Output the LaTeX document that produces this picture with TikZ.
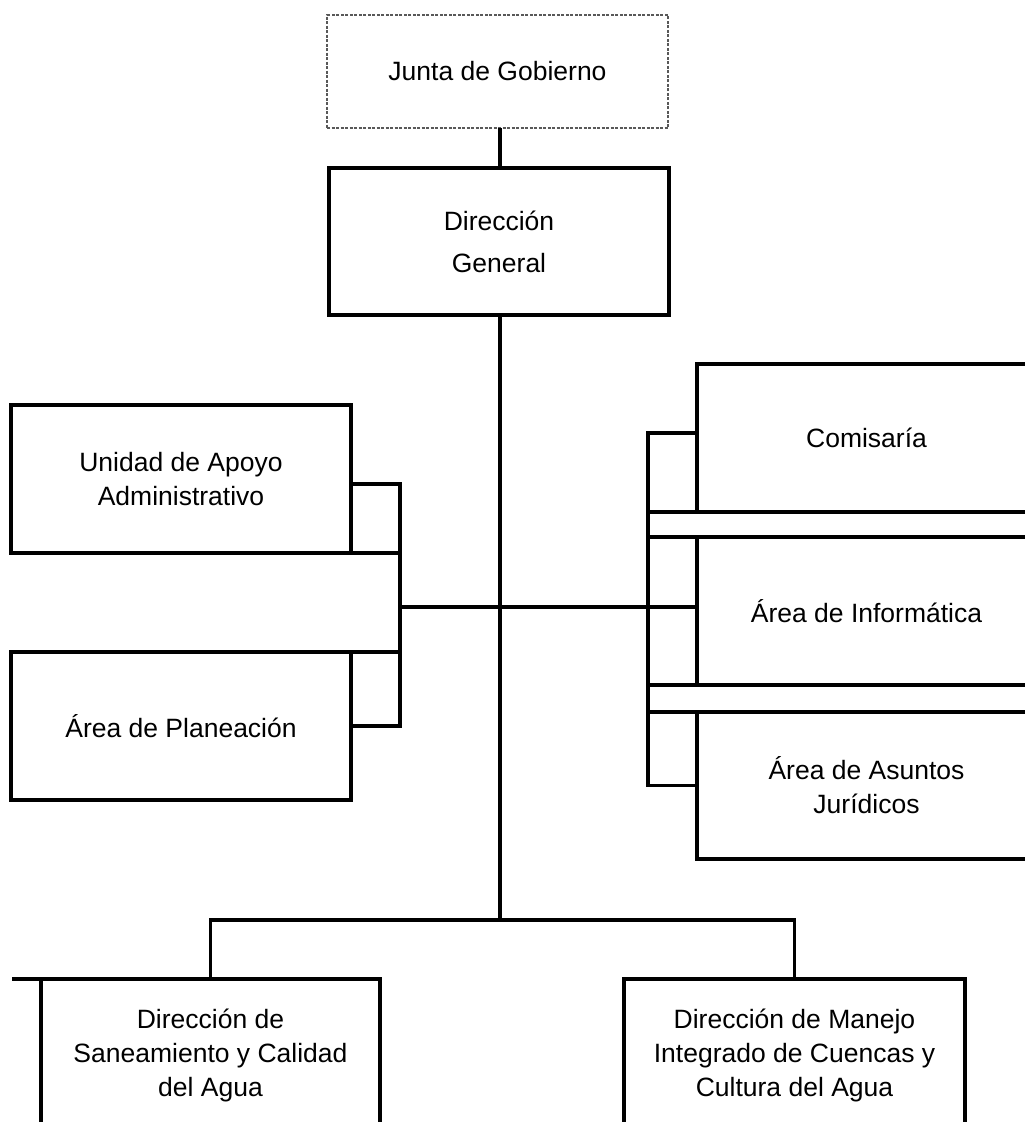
\documentclass[tikz,border=0pt]{standalone}
\usepackage{fontspec}
\setmainfont{Liberation Sans}
\usepackage{tikz}
\usetikzlibrary{positioning, calc}

\tikzset{
  unit/.style={draw, line width=3.5pt, rectangle, outer sep=0pt, inner sep=0pt,
    align=center, font=\fontsize{26.5}{34}\selectfont},
  board/.style={unit, line width=1.3pt, draw=gray!70!black, dash pattern=on 3pt off 1.5pt},
  link/.style={line width=3.5pt}
}

\begin{document}
\begin{tikzpicture}[x=1pt, y=-1pt]
    \useasboundingbox (0, 0) rectangle (1025, 1122);
    \clip (0, 0) rectangle (1025, 1122);

    \node[board, minimum width=341pt, minimum height=113pt] (junta) at (497.5, 71.5) {Junta de Gobierno};
    \node[unit, minimum width=340pt, minimum height=147pt, font=\fontsize{26.5}{42}\selectfont] (dg) at (499, 241.5) {Dirección\\General};

    % left side
    \node[unit, minimum width=340pt, minimum height=148pt] (uaa) at (181, 479) {Unidad de Apoyo\\Administrativo};
    \node[unit, minimum width=340pt, minimum height=148pt] (plan) at (181, 726) {Área de Planeación};

    % right side
    \node[unit, minimum width=339pt, minimum height=148pt] (comis) at (866.5, 438) {Comisaría};
    \node[unit, minimum width=339pt, minimum height=148pt] (info) at (866.5, 611) {Área de Informática};
    \node[unit, minimum width=339pt, minimum height=147pt] (asun) at (866.5, 785.5) {Área de Asuntos\\Jurídicos};

    % bottom
    \node[unit, minimum width=339pt, minimum height=152pt] (dsan) at (210.5, 1055) {Dirección de\\Saneamiento y Calidad\\del Agua};
    \node[unit, minimum width=341pt, minimum height=152pt] (dmic) at (794.5, 1055) {Dirección de Manejo\\Integrado de Cuencas y\\Cultura del Agua};

    \coordinate (lbus) at (400, 607);
    \coordinate (rbus) at (648, 607);
    \coordinate (split) at (500, 920);

    \draw[link] (split |- junta.south) -- (split |- dg.north);
    \draw[link] (split |- dg.south) -- (split);
    \draw[link] (lbus) -- (lbus -| info.west);
    \draw[link] ($(uaa.east)+(0,5)$) -| (lbus) |- (plan.east);
    \draw[link] (uaa.south east) -- (uaa.south east -| lbus);
    \draw[link] (plan.north east) -- (plan.north east -| lbus);
    \draw[link] ($(comis.west)+(0,-5)$) -| (rbus) |- (asun.west);
    \draw[link] (comis.south west) -- (comis.south west -| rbus);
    \draw[link] (info.north west) -- (info.north west -| rbus);
    \draw[link] (info.south west) -- (info.south west -| rbus);
    \draw[link] (asun.north west) -- (asun.north west -| rbus);
    \draw[link] (dsan.north) |- (split) -| (dmic.north);
    \draw[link] (dsan.north west) -- ++(-29, 0);
\end{tikzpicture}
\end{document}
